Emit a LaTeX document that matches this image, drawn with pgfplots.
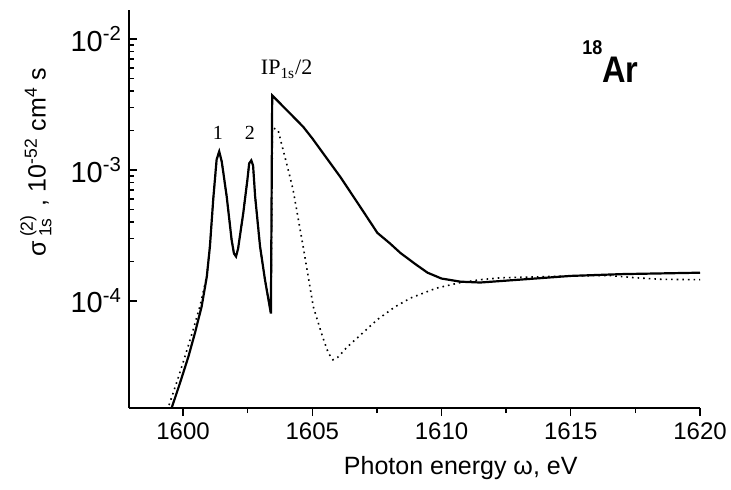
\documentclass[border=0pt]{standalone}
\usepackage{fontspec}
\setmainfont{Liberation Sans}
\newfontfamily\seriffont{Liberation Serif}
\usepackage{graphicx}
\usepackage{pgfplots}
\pgfplotsset{compat=1.18}
\begin{document}
\begin{tikzpicture}
\begin{axis}[
  scale only axis, width=285.5pt, height=199pt,
  ymode=log, xmin=1597.91, xmax=1620, ymin=1.52e-5, ymax=1.66e-2,
  axis lines=left, axis line style={-, line width=0.9pt},
  tick align=inside, major tick length=4pt, minor tick length=2.5pt,
  tick style={line width=0.7pt, black},
  xtick={1600,1605,1610,1615,1620}, minor x tick num=1,
  xticklabels={1600,1605,1610,1615,1620},
  major x tick style={yshift=-4pt}, minor x tick style={yshift=-2.5pt},
  ytick={1e-4,1e-3,1e-2},
  yticklabels={10\textsuperscript{-4},10\textsuperscript{-3},10\textsuperscript{-2}},
  x tick label style={font=\fontsize{12}{12}\selectfont, yshift=-4pt},
  y tick label style={font=\fontsize{14.5}{14.5}\selectfont},
  xlabel={Photon energy ω, eV},
  xlabel style={at={(axis description cs:0.581,-0.151)}, anchor=center, font=\fontsize{12.5}{12.5}\selectfont},
  ylabel={σ\,\rlap{\raisebox{-1pt}{\textsubscript{1s}}}\raisebox{2pt}{\textsuperscript{(2)}}\,\,, 10\textsuperscript{-52} cm\textsuperscript{4} s},
  ylabel style={at={(axis description cs:-0.163,0.618)}, anchor=center, font=\fontsize{12.5}{12.5}\selectfont},
]
% solid curve
\addplot[black, line width=1.1pt] coordinates {
(1599.3,1.1e-5) (1599.56,1.52e-5) (1599.88,2.35e-5) (1600.21,3.76e-5)
(1600.46,5.67e-5) (1600.72,9.05e-5) (1600.92,1.53e-4) (1601.04,2.6e-4)
(1601.17,6.0e-4) (1601.30,1.2e-3) (1601.40,1.38e-3) (1601.50,1.15e-3)
(1601.69,6.25e-4) (1601.88,2.92e-4) (1601.97,2.3e-4) (1602.05,2.18e-4)
(1602.13,2.5e-4) (1602.33,4.67e-4) (1602.49,8.4e-4) (1602.56,1.12e-3)
(1602.64,1.18e-3) (1602.71,1.08e-3) (1602.79,6.25e-4) (1602.98,2.6e-4)
(1603.17,1.45e-4) (1603.40,8.0e-5)
(1603.45,3.7e-3) (1603.48,3.65e-3) (1604.26,2.55e-3) (1604.65,2.13e-3)
(1605.0,1.74e-3) (1606.09,8.8e-4) (1606.86,5.2e-4) (1607.52,3.3e-4)
(1608.0,2.75e-4) (1608.41,2.32e-4) (1609.0,1.9e-4) (1609.46,1.64e-4)
(1610.0,1.48e-4) (1610.74,1.40e-4) (1611.5,1.38e-4)
(1613,1.45e-4) (1615,1.55e-4) (1617,1.60e-4) (1620,1.64e-4)
};
% dotted curve
\addplot[black, line width=0.8pt, dotted] coordinates {
(1599.2,1.1e-5) (1599.42,1.52e-5) (1599.76,2.4e-5) (1600.1,3.9e-5)
(1600.38,5.9e-5) (1600.66,9.2e-5) (1600.92,1.55e-4) (1601.04,2.6e-4)
(1601.17,6.0e-4) (1601.30,1.2e-3) (1601.40,1.38e-3) (1601.50,1.15e-3)
(1601.69,6.25e-4) (1601.88,2.92e-4) (1601.97,2.3e-4) (1602.05,2.18e-4)
(1602.13,2.5e-4) (1602.33,4.67e-4) (1602.49,8.4e-4) (1602.56,1.12e-3)
(1602.64,1.18e-3) (1602.71,1.08e-3) (1602.79,6.25e-4) (1602.98,2.6e-4)
(1603.17,1.45e-4) (1603.40,8.0e-5)
(1603.46,2.1e-3) (1603.68,2.0e-3) (1604.14,8.8e-4) (1604.26,7.0e-4)
(1604.65,2.58e-4) (1605.04,9.0e-5) (1605.4,5.3e-5) (1605.62,4.0e-5)
(1605.8,3.55e-5) (1605.98,3.7e-5) (1606.36,4.46e-5) (1607.0,5.8e-5)
(1607.52,7.2e-5) (1608.2,9.0e-5) (1608.8,1.05e-4) (1609.8,1.25e-4)
(1610.74,1.38e-4) (1611.5,1.45e-4) (1612.3,1.50e-4) (1613.5,1.52e-4)
(1615,1.55e-4) (1616.5,1.56e-4) (1617.5,1.50e-4) (1618.5,1.46e-4) (1620,1.45e-4)
};
\node[font=\seriffont\fontsize{10}{10}\selectfont] at (axis cs:1601.35,1.93e-3) {1};
\node[font=\seriffont\fontsize{10}{10}\selectfont] at (axis cs:1602.59,1.93e-3) {2};
\node[anchor=base west, inner sep=0pt, font=\seriffont\fontsize{11}{11}\selectfont] at (axis cs:1603.0,5.31e-3) {IP\textsubscript{1s}/2};
\node[anchor=base west, inner sep=0pt] at (axis cs:1615.43,4.61e-3)
  {\bfseries\scalebox{0.9}[1]{\fontsize{10}{10}\selectfont\raisebox{14pt}{18}}\scalebox{0.88}[1]{\fontsize{18.5}{18.5}\selectfont Ar}};
\end{axis}
\pgfresetboundingbox
\path[use as bounding box] (-64.5pt,-40.5pt) rectangle (301pt,204pt);
\end{tikzpicture}
\end{document}
